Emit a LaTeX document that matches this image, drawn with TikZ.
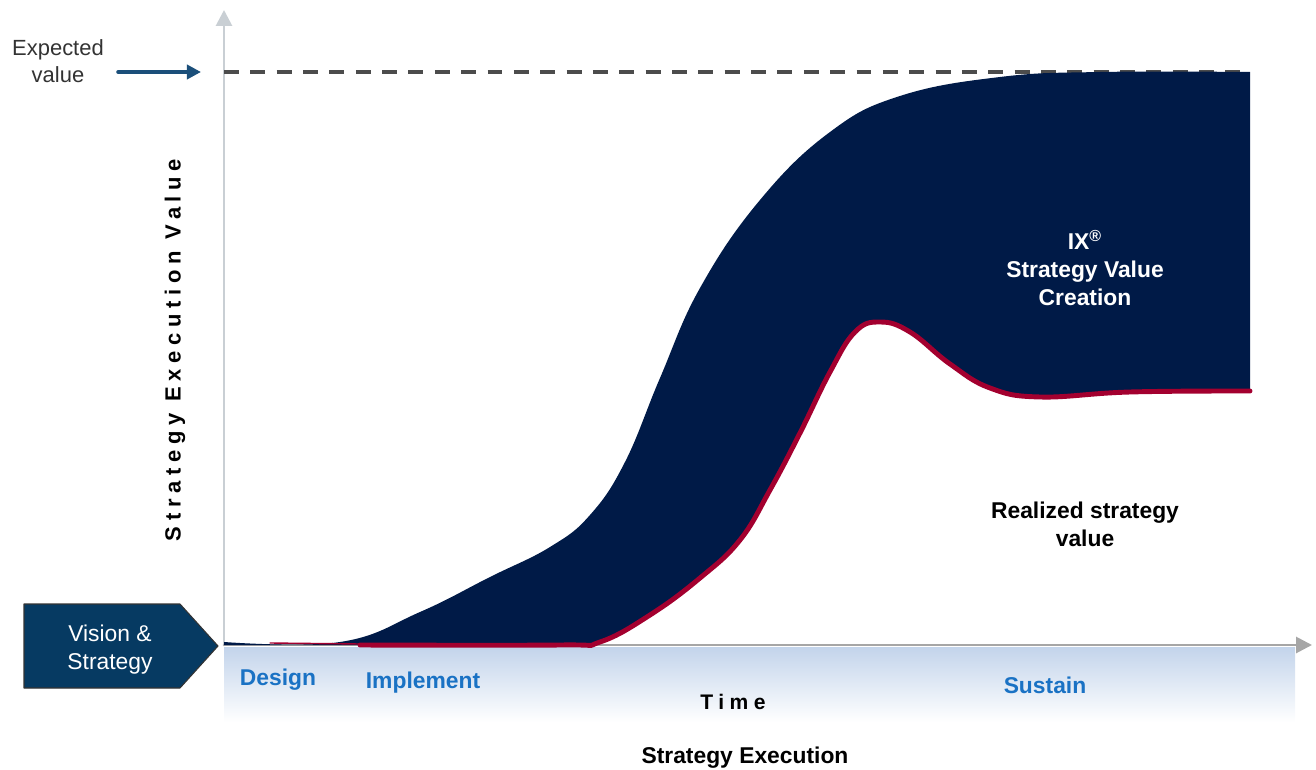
\documentclass[tikz,border=0pt]{standalone}
\usepackage{fontspec}
\setmainfont{Liberation Sans}
\newfontfamily\spacedfont[LetterSpace=26]{Liberation Sans}
\usetikzlibrary{arrows.meta}
\definecolor{navy}{HTML}{001A47}
\definecolor{wine}{HTML}{A3002F}
\definecolor{steel}{HTML}{063A62}
\definecolor{phase}{HTML}{1A72C4}
\definecolor{pointer}{HTML}{1B4F7A}
\definecolor{axisgray}{HTML}{C9CFD4}
\definecolor{band}{HTML}{C3D4EB}
\tikzset{
  axis/.style={line width=1.6pt, color=axisgray, -{Triangle[width=9pt,length=9pt]}},
  phase/.style={font=\bfseries\fontsize{13}{15}\selectfont, text=phase},
  label/.style={font=\bfseries\fontsize{13}{16}\selectfont, align=center},
}
\begin{document}
\begin{tikzpicture}[x=0.02cm, y=-0.02cm, line join=round, line cap=round]
\useasboundingbox (0,0) rectangle (1316,770);
% band under the time axis
\shade[top color=band, bottom color=white] (224,647) rectangle (1295,722);
% axes
\coordinate (o) at (224,645);
\coordinate (ytop) at (224,10);
\coordinate (xend) at (1312,645);
\draw[axis] (o) -- (ytop);
\draw[axis, color=gray!70] (o) -- (xend);
% expected value
\coordinate (ev0) at (224,72);
\coordinate (ev1) at (1250,72);
\draw[line width=2pt, color=black!70, dash pattern=on 8.5pt off 6.5pt, line cap=butt] (ev0) -- (ev1);
\node[font=\fontsize{12.5}{15.5}\selectfont, align=center, text=black!80] (expected) at (58,61) {Expected\\value};
\coordinate (evtail) at (118,72);
\coordinate (evtip) at (201,72);
\draw[pointer, line width=2pt, -{Triangle[width=8pt,length=8pt]}] (evtail) -- (evtip);
% value creation area
\def\upper{(224,642) (340,642) (420,612) (490,577) (550,547) (590,515) (625,462) (660,378)
  (700,288) (760,200) (830,132) (900,96) (1000,77) (1100,72) (1250,72)}
\def\lower{(1250,391) (1130,392) (1040,397) (990,388) (950,364) (910,332) (880,322) (855,332)
  (830,372) (800,433) (770,490) (740,540) (700,578) (650,615) (600,642) (560,645) (360,645)}
\fill[navy] plot[smooth, tension=0.7] coordinates {\upper}
  -- plot[smooth, tension=0.7] coordinates {\lower} -- (224,645) -- cycle;
\draw[wine, line width=2.8pt] plot[smooth, tension=0.7] coordinates {\lower};
\draw[wine, line width=0.8pt] (270,643) -- (360,644);
% labels
\node[label, text=white] (ix) at (1085,268) {IX\textsuperscript{\textregistered}\\Strategy Value\\Creation};
\node[label] (realized) at (1085,524) {Realized strategy\\value};
\node[font=\spacedfont\bfseries\fontsize{12.5}{14}\selectfont, rotate=90] (ylab) at (175,350) {Strategy Execution Value};
% vision box
\fill[steel, draw=black!80, line width=0.6pt] (24,604) -- (180,604) -- (218,646) -- (180,688) -- (24,688) -- cycle;
\node[font=\fontsize{13}{16}\selectfont, align=center, text=white] (vision) at (110,650) {Vision \&\\Strategy};
% phases
\node[phase] (design) at (278,680) {Design};
\node[phase] (implement) at (423,683) {Implement};
\node[phase] (sustain) at (1045,685) {Sustain};
\node[font=\spacedfont\bfseries\fontsize{12}{14}\selectfont] (time) at (733,702) {Time};
\node[font=\bfseries\fontsize{13}{15}\selectfont] (execution) at (745,758) {Strategy Execution};
\end{tikzpicture}
\end{document}
